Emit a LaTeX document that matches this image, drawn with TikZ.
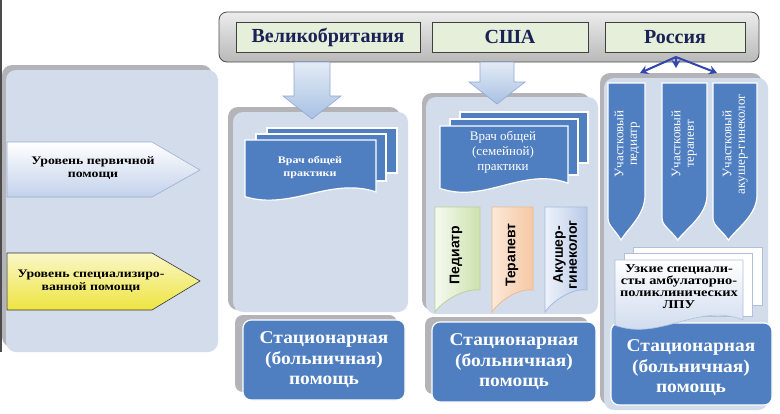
\documentclass[tikz,border=0pt]{standalone}
\usepackage{fontspec}
\setmainfont{Liberation Serif}
\newfontfamily\sansbf{Liberation Sans}
\newfontfamily\widerm[FakeStretch=1.2]{Liberation Serif}
\newfontfamily\midrm[FakeStretch=1.08]{Liberation Serif}
\usetikzlibrary{arrows.meta}
\definecolor{panelblue}{HTML}{D3DCEB}
\definecolor{shadowgray}{HTML}{B4B4B8}
\definecolor{boxblue}{HTML}{4F7FC0}
\definecolor{titlegreen}{HTML}{E6EFDA}
\definecolor{titletext}{HTML}{1A2255}
\definecolor{arrowlight}{HTML}{E3EBF6}
\definecolor{arrowmid}{HTML}{A9C1E3}
\definecolor{arrowedge}{HTML}{8FA9D4}
\definecolor{rudark}{HTML}{3346B0}
\definecolor{lvlblue}{HTML}{C2D1EA}
\definecolor{lvlblueedge}{HTML}{9AAFD0}
\definecolor{yellowtop}{HTML}{FAF7C8}
\definecolor{yellowbot}{HTML}{EDE440}
\definecolor{greenl}{HTML}{F6FAF0}
\definecolor{greenr}{HTML}{CDE1AE}
\definecolor{greene}{HTML}{B9D196}
\definecolor{orangel}{HTML}{FCE8D8}
\definecolor{oranger}{HTML}{F5C8A4}
\definecolor{orangee}{HTML}{EFB98E}
\definecolor{bluel}{HTML}{EEF2FA}
\definecolor{bluer}{HTML}{B8CAE8}
\definecolor{bluee}{HTML}{A3B9DE}
\definecolor{docedge}{HTML}{B0C0DA}
\definecolor{docbot}{HTML}{C8D6EC}
\newcommand\wavydoc[5]{%
  \path[#1] (#2,#3) -- (#4,#3) -- (#4,{#5-0.12*(#5-#3)})
    .. controls ({#2+0.65*(#4-#2)},{#5-0.38*(#5-#3)}) and ({#2+0.35*(#4-#2)},{#5+0.2*(#5-#3)}) .. (#2,{#5-0.04*(#5-#3)}) -- cycle;}
\newcommand\tabshape[5]{%
  \path[#1] (#2,#3) -- (#4,#3) -- (#4,{#5-22})
    .. controls ({#4-12},{#5-24}) and ({#2+10},{#5-14}) .. (#2,#5) -- cycle;}
\newcommand\rutab[5]{%
  \path[#1] (#2,#3) -- (#4,#3) -- (#4,{#5-45})
    .. controls (#4,{#5-25}) and ({#2+0.55*(#4-#2)},{#5-12}) .. ({#2+0.35*(#4-#2)},#5)
    .. controls ({#2+0.2*(#4-#2)},{#5-10}) and (#2,{#5-14}) .. (#2,{#5-22}) -- cycle;}
\tikzset{
  shadowbox/.style={fill=shadowgray, rounded corners=10pt},
  panel/.style={fill=panelblue, rounded corners=10pt},
  bluebox/.style={fill=boxblue, draw=white, line width=1.2pt, rounded corners=8pt},
  bigtext/.style={text=white, font=\midrm\fontsize{18}{20.5}\selectfont\bfseries, align=center},
  titlebox/.style={draw=black!75, line width=0.8pt, fill=titlegreen, minimum height=30pt,
     text=titletext, font=\fontsize{20}{22}\selectfont\bfseries},
  docblue/.style={fill=boxblue, draw=white, line width=1.2pt},
  downarrow/.style={top color=arrowlight, bottom color=arrowmid, draw=arrowedge, line width=0.6pt},
  ruarrow/.style={draw=rudark, line width=2pt, -{Stealth[length=8pt,width=9pt]}},
  leveltext/.style={font=\widerm\fontsize{11.5}{12.5}\selectfont\bfseries, align=center, text=black},
  ustext/.style={font=\sansbf\fontsize{14}{14}\selectfont\bfseries, align=center, rotate=90, text=black},
  rutext/.style={font=\fontsize{13}{13.5}\selectfont, align=center, rotate=90, text=white},
}
\begin{document}
\begin{tikzpicture}[x=1pt,y=-1pt]
\useasboundingbox (0,0) rectangle (780,413);
\fill[white] (0,0) rectangle (780,413);
\draw[line width=1.5pt, black!70] (0.75,0) -- (0.75,352);

% left panel
\fill[shadowgray, rounded corners=10pt] (2,65) rectangle (212,347);
\fill[panel] (6,70) rectangle (218,352);
\path[top color=white, bottom color=lvlblue, draw=lvlblueedge, line width=0.6pt]
  (7,142) -- (152,142) -- (200,170) -- (152,197) -- (7,197) -- cycle;
\node[leveltext] (lvl1) at (93,168) {Уровень первичной\\помощи};
\path[top color=yellowtop, bottom color=yellowbot, draw=black!80, line width=0.6pt]
  (7,253) -- (152,253) -- (200,281) -- (152,310) -- (7,310) -- cycle;
\node[leveltext] (lvl2) at (91,281) {Уровень специализиро-\\ванной помощи};

% title bar
\node[rounded corners=8pt, top color=gray!15, bottom color=gray!55, draw=black!70, line width=0.8pt,
  minimum width=540pt, minimum height=50pt] (bar) at (489,37) {};
\node[titlebox, minimum width=184pt] (uk) at (328,37) {Великобритания};
\node[titlebox, minimum width=156pt] (usa) at (510,37) {США};
\node[titlebox, minimum width=140pt] (ru) at (675,37) {Россия};

% UK column
\fill[shadowbox] (228,107) rectangle (400,310);
\fill[panel] (233,112) rectangle (408,312);
\fill[shadowbox, rounded corners=8pt] (235,315) rectangle (397,392);
\path[bluebox] (243,320) rectangle (405,400);
\node[bigtext] (ukhosp) at (324,360) {Стационарная\\(больничная)\\помощь};
\path[downarrow] (294,62) -- (330,62) -- (330,96) -- (341,96) -- (312,119) -- (283,96) -- (294,96) -- cycle;
\path[docblue] (267,128) rectangle (397,173);
\path[docblue] (256,134) rectangle (386,181);
\wavydoc{docblue}{245}{140}{376}{199}
\node[text=white, font=\widerm\fontsize{10}{13}\selectfont\bfseries, align=center] (ukgp) at (310,167) {Врач общей\\практики};

% USA column
\fill[shadowbox] (422,93) rectangle (590,310);
\fill[panel] (426,97) rectangle (598,314);
\fill[shadowbox, rounded corners=8pt] (425,317) rectangle (588,394);
\path[bluebox] (432,322) rectangle (596,402);
\node[bigtext] (ushosp) at (514,362) {Стационарная\\(больничная)\\помощь};
\path[downarrow] (480,62) -- (514,62) -- (514,82) -- (525,82) -- (497,104) -- (469,82) -- (480,82) -- cycle;
\path[docblue] (460,112) rectangle (588,163);
\path[docblue] (450,119) rectangle (578,175);
\wavydoc{docblue}{440}{126}{568}{191}
\node[text=white, font=\fontsize{13}{15}\selectfont, align=center] (usgp) at (503,152) {Врач общей\\(семейной)\\практики};
\tabshape{left color=greenl, right color=greenr, draw=greene, line width=0.8pt}{435}{207}{480}{312}
\tabshape{left color=orangel, right color=oranger, draw=orangee, line width=0.8pt}{492}{207}{533}{312}
\tabshape{left color=bluel, right color=bluer, draw=bluee, line width=0.8pt}{545}{207}{587}{312}
\node[ustext] (usped) at (456,255) {Педиатр};
\node[ustext] (uster) at (512,255) {Терапевт};
\node[ustext] (usgyn) at (565,255) {Акушер-\\гинеколог};

% Russia column
\fill[shadowbox] (600,73) rectangle (762,405);
\fill[panel] (604,78) rectangle (768,410);
\rutab{docblue}{608}{83}{645}{240}
\rutab{docblue}{662}{83}{707}{240}
\rutab{docblue}{713}{83}{757}{240}
\node[rutext] (ruped) at (627,144) {Участковый\\педиатр};
\node[rutext] (ruter) at (684,144) {Участковый\\терапевт};
\node[rutext] (rugyn) at (735,144) {Участковый\\акушер-гинеколог};
\path[bluebox] (611,323) rectangle (772,405);
\node[bigtext] (ruhosp) at (691,368) {Стационарная\\(больничная)\\помощь};
\path[fill=white, draw=docedge, line width=0.6pt] (633,247) rectangle (762,305);
\path[fill=white, draw=docedge, line width=0.6pt] (624,253) rectangle (752,316);
\wavydoc{top color=white, bottom color=docbot, draw=docedge, line width=0.6pt}{615}{260}{743}{328}
\node[font=\widerm\fontsize{12}{12}\selectfont\bfseries, align=center, text=black] (rusp) at (679,287)
  {Узкие специали-\\сты амбулаторно-\\поликлинических\\ЛПУ};

\coordinate (rusrc) at (676,57);
\coordinate (rut1) at (640,73);
\coordinate (rut2) at (676,68);
\coordinate (rut3) at (717,73);
\draw[ruarrow] (rusrc) -- (rut1);
\draw[ruarrow] (rusrc) -- (rut2);
\draw[ruarrow] (rusrc) -- (rut3);
\end{tikzpicture}
\end{document}
